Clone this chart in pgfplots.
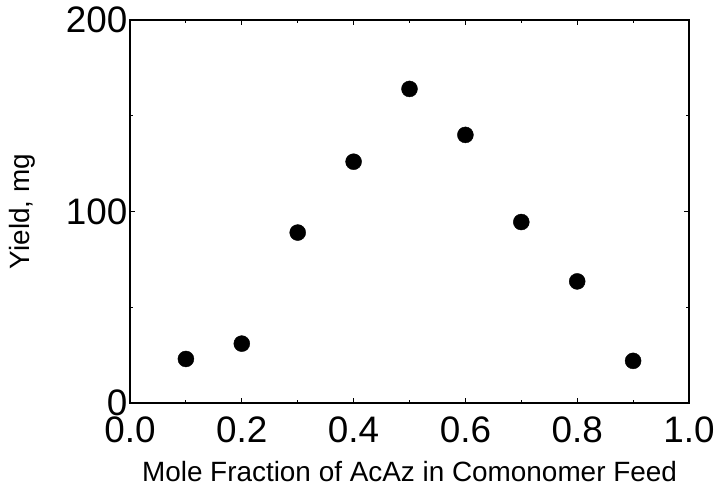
\documentclass[border=0pt]{standalone}
\usepackage{fontspec}
\setmainfont{Liberation Sans}
\usepackage{pgfplots}
\pgfplotsset{compat=1.18}
\begin{document}
\begin{tikzpicture}
\useasboundingbox (-130bp,-100bp) rectangle (586bp,403bp);
\begin{axis}[
  scale only axis,
  width=559bp, height=383bp,
  anchor=south west, at={(0,0)},
  xmin=0, xmax=1, ymin=0, ymax=200,
  xtick={0,0.2,0.4,0.6,0.8,1.0},
  minor xtick={0.1,0.3,0.5,0.7,0.9},
  ytick={0,100,200},
  minor ytick={50,150},
  xticklabels={0.0,0.2,0.4,0.6,0.8,1.0},
  tick align=inside,
  major tick length=5bp, minor tick length=3bp,
  every tick/.style={black, line width=1pt},
  axis line style={line width=1.3pt},
  /pgf/number format/assume math mode=true,
  tick label style={font=\fontsize{37}{38}\selectfont},
  xticklabel style={yshift=-10bp},
  yticklabel style={xshift=1bp},
  xlabel={Mole Fraction of AcAz in Comonomer Feed},
  ylabel={Yield, mg},
  label style={font=\fontsize{28}{30}\selectfont},
  xlabel style={at={(axis description cs:0.5,0)}, anchor=north, yshift=-55bp},
  ylabel style={at={(axis description cs:-0.163,0.5)}, anchor=south},
]
\addplot[only marks, mark=*, mark size=8bp, black] coordinates {
  (0.1,23) (0.2,31) (0.3,89) (0.4,126) (0.5,164)
  (0.6,140) (0.7,94.5) (0.8,63.5) (0.9,22)
};
\end{axis}
\end{tikzpicture}
\end{document}
